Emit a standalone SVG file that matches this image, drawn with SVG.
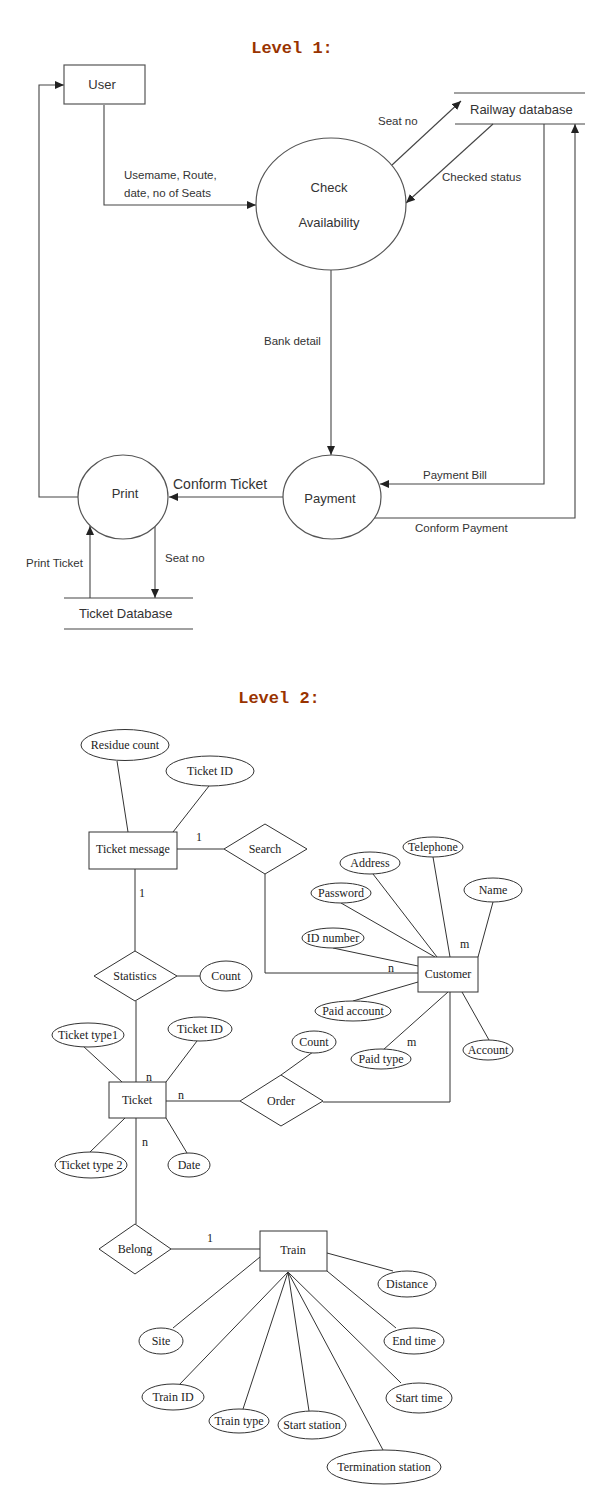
<svg xmlns="http://www.w3.org/2000/svg" width="609" height="1511" viewBox="0 0 609 1511">
<style>
.title{font-family:"Liberation Mono",monospace;font-weight:bold;font-size:17px;fill:#993300}
.l1{font-family:"Liberation Sans",Arial,sans-serif;font-size:11.5px;fill:#333}
.l1n{font-family:"Liberation Sans",Arial,sans-serif;font-size:13px;fill:#333}
.l2{font-family:"Liberation Serif","Times New Roman",serif;font-size:12px;fill:#222}
.shape1{fill:#fff;stroke:#555;stroke-width:1.2}
.shape2{fill:#fff;stroke:#333;stroke-width:1}
.c1{fill:none;stroke:#444;stroke-width:1.1}
.c2{fill:none;stroke:#333;stroke-width:1}
.mid{text-anchor:middle}
</style>
<defs>
<marker id="arr" markerUnits="userSpaceOnUse" markerWidth="9" markerHeight="8" refX="9" refY="4" orient="auto">
<path d="M0,0 L9,4 L0,8 z" fill="#222"/>
</marker>
</defs>
<rect width="609" height="1511" fill="#fff"/>

<text class="title" x="292" y="53" text-anchor="middle">Level 1:</text>

<g id="connectors-l1">
<polyline class="c1" points="78,497 39,497 39,85 64,85" marker-end="url(#arr)"/>
<polyline class="c1" points="104,105 104,205 256,205" marker-end="url(#arr)"/>
<line class="c1" x1="392" y1="165" x2="461" y2="101" marker-end="url(#arr)"/>
<line class="c1" x1="493" y1="124" x2="406" y2="203" marker-end="url(#arr)"/>
<line class="c1" x1="331" y1="270" x2="331" y2="455" marker-end="url(#arr)"/>
<polyline class="c1" points="544,124 544,484 380,484" marker-end="url(#arr)"/>
<polyline class="c1" points="373,518 575,518 575,124" marker-end="url(#arr)"/>
<line class="c1" x1="283" y1="497" x2="169" y2="497" marker-end="url(#arr)"/>
<line class="c1" x1="90" y1="598" x2="90" y2="526" marker-end="url(#arr)"/>
<line class="c1" x1="155" y1="526" x2="155" y2="598" marker-end="url(#arr)"/>
<text class="l1" x="124" y="179">Usemame, Route,</text>
<text class="l1" x="124" y="197">date, no of Seats</text>
<text class="l1" x="378" y="125">Seat no</text>
<text class="l1" x="442" y="181">Checked status</text>
<text class="l1" x="264" y="345">Bank detail</text>
<text class="l1" x="423" y="479">Payment Bill</text>
<text class="l1" x="415" y="532">Conform Payment</text>
<text class="l1n" x="173" y="489" style="font-size:14px">Conform Ticket</text>
<text class="l1" x="26" y="567">Print Ticket</text>
<text class="l1" x="165" y="562">Seat no</text>
</g>

<g id="user">
<rect class="shape1" x="64" y="65" width="81" height="39"/>
<text class="l1n mid" x="102" y="89">User</text>
</g>
<g id="check-availability">
<ellipse class="shape1" cx="331" cy="204" rx="75" ry="66"/>
<text class="l1n mid" x="329" y="192">Check</text>
<text class="l1n mid" x="329" y="227">Availability</text>
</g>
<g id="railway-database">
<line class="c1" x1="454" y1="93" x2="585" y2="93"/>
<line class="c1" x1="455" y1="124" x2="585" y2="124"/>
<text class="l1n" x="470" y="114">Railway database</text>
</g>
<g id="payment">
<ellipse class="shape1" cx="332" cy="497" rx="49" ry="42"/>
<text class="l1n mid" x="330" y="503">Payment</text>
</g>
<g id="print">
<ellipse class="shape1" cx="123" cy="497" rx="45" ry="42"/>
<text class="l1n mid" x="125" y="498">Print</text>
</g>
<g id="ticket-database">
<line class="c1" x1="64" y1="598" x2="193" y2="598"/>
<line class="c1" x1="64" y1="629" x2="193" y2="629"/>
<text class="l1n" x="79" y="618">Ticket Database</text>
</g>

<text class="title" x="279" y="703" text-anchor="middle">Level 2:</text>

<g id="connectors-l2">
<line class="c2" x1="117" y1="761" x2="128" y2="832"/>
<line class="c2" x1="209" y1="786" x2="173" y2="832"/>
<line class="c2" x1="177" y1="849" x2="224" y2="849"/>
<polyline class="c2" points="265,874 265,973 418,973"/>
<line class="c2" x1="135" y1="869" x2="135" y2="951"/>
<line class="c2" x1="177" y1="976" x2="200" y2="976"/>
<line class="c2" x1="433" y1="857" x2="450" y2="957"/>
<line class="c2" x1="373" y1="874" x2="437" y2="957"/>
<line class="c2" x1="341" y1="903" x2="435" y2="957"/>
<line class="c2" x1="493" y1="902" x2="478" y2="957"/>
<line class="c2" x1="333" y1="948" x2="418" y2="966"/>
<line class="c2" x1="353" y1="1001" x2="418" y2="982"/>
<line class="c2" x1="383" y1="1050" x2="448" y2="992"/>
<line class="c2" x1="462" y1="992" x2="489" y2="1040"/>
<polyline class="c2" points="450,992 450,1102 323,1102"/>
<line class="c2" x1="313" y1="1052" x2="281" y2="1075"/>
<line class="c2" x1="136" y1="1001" x2="136" y2="1082"/>
<line class="c2" x1="136" y1="1118" x2="136" y2="1224"/>
<line class="c2" x1="83" y1="1046" x2="122" y2="1082"/>
<line class="c2" x1="197" y1="1041" x2="166" y2="1082"/>
<line class="c2" x1="166" y1="1101" x2="240" y2="1101"/>
<line class="c2" x1="90" y1="1152" x2="125" y2="1118"/>
<line class="c2" x1="187" y1="1153" x2="166" y2="1118"/>
<line class="c2" x1="171" y1="1249" x2="260" y2="1249"/>
<line class="c2" x1="327" y1="1253" x2="393" y2="1271"/>
<line class="c2" x1="327" y1="1271" x2="396" y2="1328"/>
<line class="c2" x1="288" y1="1272" x2="401" y2="1383"/>
<line class="c2" x1="260" y1="1257" x2="173" y2="1328"/>
<line class="c2" x1="288" y1="1272" x2="179" y2="1385"/>
<line class="c2" x1="288" y1="1272" x2="243" y2="1409"/>
<line class="c2" x1="288" y1="1272" x2="309" y2="1411"/>
<line class="c2" x1="288" y1="1272" x2="383" y2="1450"/>
<text class="l2" x="196" y="841">1</text>
<text class="l2" x="139" y="897">1</text>
<text class="l2" x="388" y="972">n</text>
<text class="l2" x="460" y="948">m</text>
<text class="l2" x="407" y="1046">m</text>
<text class="l2" x="146" y="1081">n</text>
<text class="l2" x="178" y="1099">n</text>
<text class="l2" x="142" y="1146">n</text>
<text class="l2" x="207" y="1242">1</text>
</g>

<g id="residue-count"><ellipse class="shape2" cx="125" cy="745" rx="44" ry="15.5"/><text class="l2 mid" x="125" y="749">Residue count</text></g>
<g id="ticket-id-1"><ellipse class="shape2" cx="210" cy="771" rx="44" ry="15"/><text class="l2 mid" x="210" y="775">Ticket ID</text></g>
<g id="ticket-message"><rect class="shape2" x="89" y="832" width="88" height="37"/><text class="l2 mid" x="133" y="853">Ticket message</text></g>
<g id="search"><polygon class="shape2" points="224,849 265,824 307,849 265,874"/><text class="l2 mid" x="265" y="853">Search</text></g>
<g id="statistics"><polygon class="shape2" points="94,976 135,951 177,976 135,1001"/><text class="l2 mid" x="135" y="980">Statistics</text></g>
<g id="count-1"><ellipse class="shape2" cx="226" cy="976" rx="26" ry="15"/><text class="l2 mid" x="226" y="980">Count</text></g>
<g id="telephone"><ellipse class="shape2" cx="433" cy="847" rx="30" ry="10"/><text class="l2 mid" x="433" y="851">Telephone</text></g>
<g id="address"><ellipse class="shape2" cx="370" cy="863" rx="30" ry="11"/><text class="l2 mid" x="370" y="867">Address</text></g>
<g id="password"><ellipse class="shape2" cx="341" cy="893" rx="30" ry="10"/><text class="l2 mid" x="341" y="897">Password</text></g>
<g id="name"><ellipse class="shape2" cx="493" cy="890" rx="29" ry="12"/><text class="l2 mid" x="493" y="894">Name</text></g>
<g id="id-number"><ellipse class="shape2" cx="333" cy="938" rx="31" ry="10"/><text class="l2 mid" x="333" y="942">ID number</text></g>
<g id="customer"><rect class="shape2" x="418" y="957" width="60" height="35"/><text class="l2 mid" x="448" y="978">Customer</text></g>
<g id="paid-account"><ellipse class="shape2" cx="353" cy="1011" rx="38" ry="10"/><text class="l2 mid" x="353" y="1015">Paid account</text></g>
<g id="count-2"><ellipse class="shape2" cx="314" cy="1042" rx="22" ry="11"/><text class="l2 mid" x="314" y="1046">Count</text></g>
<g id="paid-type"><ellipse class="shape2" cx="381" cy="1059" rx="30" ry="10"/><text class="l2 mid" x="381" y="1063">Paid type</text></g>
<g id="account"><ellipse class="shape2" cx="488" cy="1050" rx="25" ry="10"/><text class="l2 mid" x="488" y="1054">Account</text></g>
<g id="ticket-type1"><ellipse class="shape2" cx="88" cy="1035" rx="36" ry="12"/><text class="l2 mid" x="88" y="1039">Ticket type1</text></g>
<g id="ticket-id-2"><ellipse class="shape2" cx="200" cy="1029" rx="32" ry="12"/><text class="l2 mid" x="200" y="1033">Ticket ID</text></g>
<g id="ticket"><rect class="shape2" x="109" y="1082" width="57" height="36"/><text class="l2 mid" x="137" y="1104">Ticket</text></g>
<g id="order"><polygon class="shape2" points="240,1101 281,1075 323,1101 281,1126"/><text class="l2 mid" x="281" y="1105">Order</text></g>
<g id="ticket-type2"><ellipse class="shape2" cx="91" cy="1165" rx="36" ry="13"/><text class="l2 mid" x="91" y="1169">Ticket type 2</text></g>
<g id="date"><ellipse class="shape2" cx="189" cy="1165" rx="21" ry="12"/><text class="l2 mid" x="189" y="1169">Date</text></g>
<g id="belong"><polygon class="shape2" points="99,1249 135,1224 171,1249 135,1274"/><text class="l2 mid" x="135" y="1253">Belong</text></g>
<g id="train"><rect class="shape2" x="260" y="1231" width="67" height="40"/><text class="l2 mid" x="293" y="1254">Train</text></g>
<g id="distance"><ellipse class="shape2" cx="407" cy="1284" rx="29" ry="13"/><text class="l2 mid" x="407" y="1288">Distance</text></g>
<g id="end-time"><ellipse class="shape2" cx="414" cy="1341" rx="30" ry="13"/><text class="l2 mid" x="414" y="1345">End time</text></g>
<g id="start-time"><ellipse class="shape2" cx="419" cy="1398" rx="33" ry="15"/><text class="l2 mid" x="419" y="1402">Start time</text></g>
<g id="site"><ellipse class="shape2" cx="161" cy="1341" rx="22" ry="13"/><text class="l2 mid" x="161" y="1345">Site</text></g>
<g id="train-id"><ellipse class="shape2" cx="173" cy="1397" rx="31" ry="13"/><text class="l2 mid" x="173" y="1401">Train ID</text></g>
<g id="train-type"><ellipse class="shape2" cx="239" cy="1421" rx="30" ry="12"/><text class="l2 mid" x="239" y="1425">Train type</text></g>
<g id="start-station"><ellipse class="shape2" cx="312" cy="1425" rx="34" ry="14"/><text class="l2 mid" x="312" y="1429">Start station</text></g>
<g id="termination-station"><ellipse class="shape2" cx="384" cy="1467" rx="57" ry="17"/><text class="l2 mid" x="384" y="1471">Termination station</text></g>
</svg>
